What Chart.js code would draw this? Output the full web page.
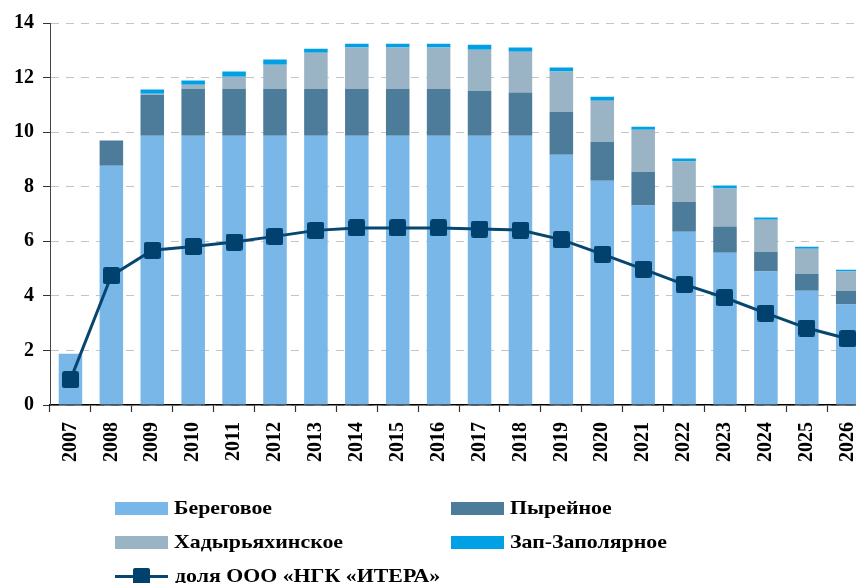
<!DOCTYPE html>
<html>
<head>
<meta charset="utf-8">
<script src="https://cdn.jsdelivr.net/npm/chart.js@4.4.1/dist/chart.umd.min.js"></script>
<style>
html,body{margin:0;padding:0;background:#fff;overflow:hidden}
#wrap{position:relative;width:856px;height:583px;overflow:hidden;background:#fff}
#box{position:absolute;left:0;top:0;width:882px;height:583px}
.lg{position:absolute;height:20px;display:flex;align-items:center;font:bold 19px "Liberation Serif","Times New Roman",serif;color:#000;white-space:nowrap}
.lg span{display:inline-block;transform:scaleX(1.15);transform-origin:0 50%}
.sw{width:53px;height:13px;margin-right:6px;flex:none}
.ln{position:relative;width:53px;height:17px;margin-right:7px;flex:none}
.ln .bar{position:absolute;left:0;top:7px;width:53px;height:3px}
.ln .sq{position:absolute;left:18px;top:0;width:17px;height:17px;border-radius:2px}
</style>
</head>
<body>
<div id="wrap">
  <div id="box"><canvas id="c"></canvas></div>
  <div id="legend"></div>
</div>
<script>
const years = ['2007','2008','2009','2010','2011','2012','2013','2014','2015','2016','2017','2018','2019','2020','2021','2022','2023','2024','2025','2026'];
const beregovoe = [1.88, 8.77, 9.87, 9.87, 9.87, 9.87, 9.87, 9.87, 9.87, 9.87, 9.87, 9.87, 9.17, 8.22, 7.31, 6.35, 5.58, 4.89, 4.19, 3.68];
const pyreynoe  = [0, 0.92, 1.50, 1.72, 1.72, 1.72, 1.72, 1.72, 1.72, 1.72, 1.65, 1.58, 1.58, 1.43, 1.24, 1.10, 0.96, 0.73, 0.62, 0.51];
const khadyr    = [0, 0, 0.04, 0.15, 0.44, 0.88, 1.32, 1.51, 1.51, 1.51, 1.50, 1.50, 1.47, 1.50, 1.54, 1.47, 1.39, 1.17, 0.92, 0.70];
const zapZap    = [0, 0, 0.15, 0.15, 0.19, 0.19, 0.15, 0.14, 0.14, 0.14, 0.18, 0.15, 0.15, 0.15, 0.11, 0.11, 0.11, 0.08, 0.07, 0.07];
const shareItera = [0.93, 4.74, 5.67, 5.81, 5.97, 6.18, 6.40, 6.49, 6.49, 6.49, 6.45, 6.41, 6.06, 5.53, 4.98, 4.42, 3.93, 3.37, 2.82, 2.43];
const yTicks = [0, 2, 4, 6, 8, 10, 12, 14];

const C_BER = '#78b7e7', C_PYR = '#4d7b9a', C_KHA = '#9ab4c5', C_ZAP = '#00a1e4';
const C_LINE = '#07466f', C_MARK = '#00426d';

// rounded square marker
const mk = document.createElement('canvas');
mk.width = 17; mk.height = 17;
(function(){
  const g = mk.getContext('2d');
  const r = 2.5, w = 17, h = 17;
  g.fillStyle = C_MARK;
  g.beginPath();
  g.moveTo(r,0); g.lineTo(w-r,0); g.quadraticCurveTo(w,0,w,r);
  g.lineTo(w,h-r); g.quadraticCurveTo(w,h,w-r,h);
  g.lineTo(r,h); g.quadraticCurveTo(0,h,0,h-r);
  g.lineTo(0,r); g.quadraticCurveTo(0,0,r,0);
  g.fill();
})();

const FONT = {family: '"Liberation Serif","Times New Roman",serif', size: 20, weight: 'bold'};

const chart = new Chart(document.getElementById('c'), {
  data: {
    labels: years,
    datasets: [
      {type:'line', label:'доля ООО «НГК «ИТЕРА»', data: shareItera, stack:'line', order:0,
       borderColor: C_LINE, borderWidth: 3, pointStyle: mk, pointRadius: 8.5, pointHoverRadius: 8.5,
       backgroundColor: C_MARK, tension: 0, legendKind: 'line'},
      {type:'bar', label:'Береговое', data: beregovoe, backgroundColor: C_BER, stack:'s', order:1},
      {type:'bar', label:'Пырейное', data: pyreynoe, backgroundColor: C_PYR, stack:'s', order:1},
      {type:'bar', label:'Хадырьяхинское', data: khadyr, backgroundColor: C_KHA, stack:'s', order:1},
      {type:'bar', label:'Зап-Заполярное', data: zapZap, backgroundColor: C_ZAP, stack:'s', order:1}
    ]
  },
  options: {
    responsive: true,
    maintainAspectRatio: false,
    animation: false,
    layout: {padding: {top: 23, right: 0, bottom: 0, left: 0}},
    datasets: {bar: {categoryPercentage: 1, barPercentage: 0.575, borderWidth: 0}},
    plugins: {legend: {display: false}, tooltip: {enabled: false}},
    scales: {
      x: {
        stacked: true,
        offset: true,
        grid: {display: true, offset: true, drawOnChartArea: false, drawTicks: true, tickLength: 7, tickColor: '#333', tickWidth: 1.2},
        border: {display: true, color: '#000', width: 1.5},
        ticks: {font: FONT, color: '#000', minRotation: 90, maxRotation: 90, padding: 10, autoSkip: false},
        afterFit: s => { s.height = 178; }
      },
      y: {
        stacked: true,
        min: 0, max: 14,
        afterBuildTicks: s => { s.ticks = yTicks.map(v => ({value: v})); },
        grid: {color: '#c4c4c4', lineWidth: 1, drawTicks: true, tickLength: 7, tickColor: '#333', tickWidth: 1, tickBorderDash: []},
        border: {display: true, color: '#444', width: 1, dash: [8, 7]},
        ticks: {font: FONT, color: '#000', padding: 9},
        afterFit: s => { s.width = 50; }
      }
    }
  }
});

// HTML legend built from datasets
const legend = document.getElementById('legend');
const slots = {
  'Береговое': [115, 508],
  'Пырейное': [451, 508],
  'Хадырьяхинское': [115, 542],
  'Зап-Заполярное': [451, 542],
  'доля ООО «НГК «ИТЕРА»': [115, 576]
};
chart.data.datasets.forEach(ds => {
  const p = slots[ds.label];
  const d = document.createElement('div');
  d.className = 'lg';
  d.style.left = p[0] + 'px';
  d.style.top = (p[1] - 10) + 'px';
  if (ds.legendKind === 'line') {
    const l = document.createElement('div'); l.className = 'ln';
    const b = document.createElement('div'); b.className = 'bar'; b.style.background = ds.borderColor;
    const q = document.createElement('div'); q.className = 'sq'; q.style.background = C_MARK;
    l.appendChild(b); l.appendChild(q); d.appendChild(l);
  } else {
    const s = document.createElement('div'); s.className = 'sw'; s.style.background = ds.backgroundColor;
    d.appendChild(s);
  }
  const t = document.createElement('span'); t.textContent = ds.label;
  d.appendChild(t);
  legend.appendChild(d);
});
</script>
</body>
</html>
